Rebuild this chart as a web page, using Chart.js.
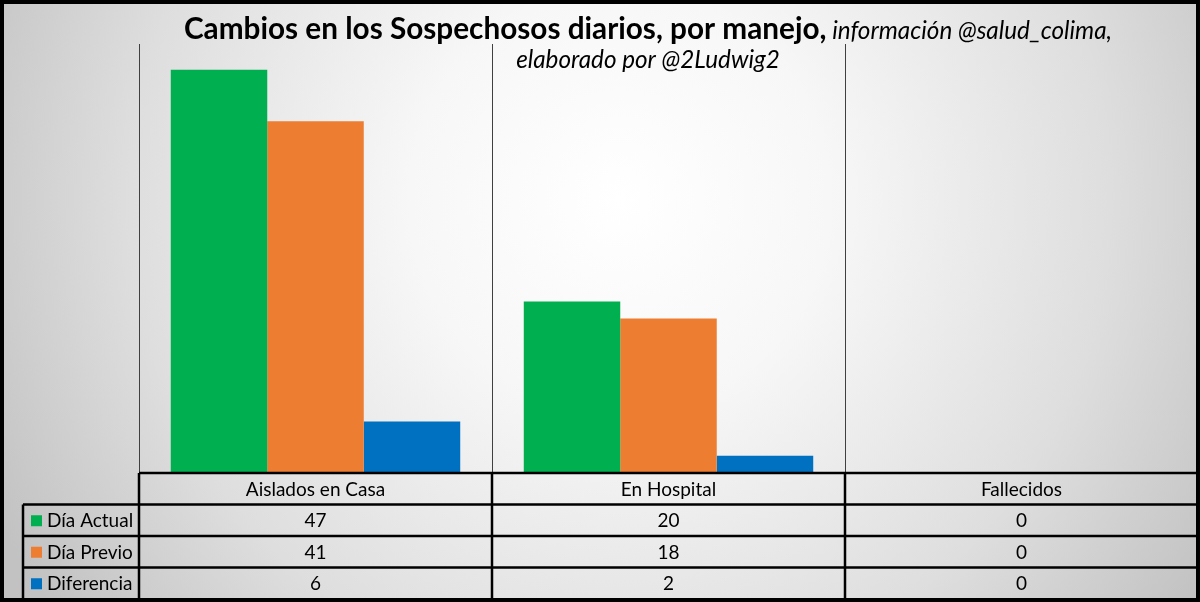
<!DOCTYPE html>
<html lang="es">
<head>
  <meta charset="UTF-8">
  <title>Cambios en los Sospechosos diarios</title>
  <script src="https://cdn.jsdelivr.net/npm/chart.js"></script>
  <style>
    html, body { margin: 0; padding: 0; background: #fff; }
    #wrap { position: relative; width: 1200px; height: 602px; }
  </style>
</head>
<body>
  <div id="wrap"><canvas id="chart"></canvas></div>

  <script>
    // data
    const categories = ['Aislados en Casa', 'En Hospital', 'Fallecidos'];
    const seriesNames = ['Día Actual', 'Día Previo', 'Diferencia'];
    const diaActual = [47, 20, 0];
    const diaPrevio = [41, 18, 0];
    const diferencia = [6, 2, 0];
    const seriesColors = ['#00B050', '#ED7D31', '#0070C0'];

    const FONT = 'Lato, "Open Sans", sans-serif';

    // fit a string to a width by adjusting font size
    function fitFont(ctx, text, style, width) {
      ctx.font = style + ' 20px ' + FONT;
      const w = ctx.measureText(text).width;
      return 20 * width / w;
    }

    const backgroundPlugin = {
      id: 'bgGradient',
      beforeDraw(chart) {
        const ctx = chart.ctx;
        const W = chart.width, H = chart.height;
        ctx.save();
        const g = ctx.createRadialGradient(620, 200, 0, 620, 200, 700);
        g.addColorStop(0, '#ffffff');
        g.addColorStop(0.3, '#f7f7f7');
        g.addColorStop(0.7, '#dedede');
        g.addColorStop(1, '#c2c2c2');
        ctx.fillStyle = g;
        ctx.fillRect(0, 0, W, H);
        ctx.restore();
      }
    };

    const tablePlugin = {
      id: 'dataTable',
      afterDraw(chart) {
        const ctx = chart.ctx;
        const area = chart.chartArea;
        const xs = chart.scales.x;
        const colW = (area.right - area.left) / categories.length;
        const rowH = 31.5;
        const top = area.bottom;
        const rows = [diaActual, diaPrevio, diferencia];
        const labelLeft = 23;

        ctx.save();
        ctx.strokeStyle = '#000';
        ctx.lineWidth = 2.5;
        // horizontal lines
        ctx.beginPath();
        ctx.moveTo(area.left, top);
        ctx.lineTo(area.right, top);
        for (let r = 1; r <= rows.length; r++) {
          ctx.moveTo(labelLeft, top + r * rowH);
          ctx.lineTo(area.right, top + r * rowH);
        }
        // vertical lines
        ctx.moveTo(labelLeft, top + rowH);
        ctx.lineTo(labelLeft, top + (rows.length + 1) * rowH);
        for (let c = 0; c <= categories.length; c++) {
          const x = area.left + c * colW;
          ctx.moveTo(x, top);
          ctx.lineTo(x, top + (rows.length + 1) * rowH);
        }
        ctx.stroke();

        ctx.fillStyle = '#000';
        ctx.font = '19px ' + FONT;
        ctx.textAlign = 'center';
        ctx.textBaseline = 'middle';
        categories.forEach((c, i) => {
          ctx.fillText(c, xs.getPixelForValue(i), top + rowH / 2 + 1);
        });
        rows.forEach((vals, r) => {
          const y = top + (r + 1) * rowH + rowH / 2 + 1;
          vals.forEach((v, i) => {
            ctx.fillText(String(v), xs.getPixelForValue(i), y);
          });
          // legend key + series name
          ctx.fillStyle = seriesColors[r];
          ctx.fillRect(31, y - 6, 11, 11);
          ctx.fillStyle = '#000';
          ctx.textAlign = 'left';
          ctx.fillText(seriesNames[r], 47, y);
          ctx.textAlign = 'center';
        });

        // title: bold part + italic credit, wrapped
        const t1 = 'Cambios en los Sospechosos diarios, por manejo,';
        const t2 = 'información @salud_colima,';
        const t3 = 'elaborado por @2Ludwig2';
        const s1 = fitFont(ctx, t1, 'bold', 643);
        const s2 = fitFont(ctx, t2, 'italic', 280);
        ctx.font = 'bold ' + s1 + 'px ' + FONT;
        const w1 = ctx.measureText(t1).width;
        ctx.font = 'italic ' + s2 + 'px ' + FONT;
        const wsp = ctx.measureText(' ').width;
        const w2 = ctx.measureText(t2).width;
        const cx = 648;
        const startX = cx - (w1 + wsp + w2) / 2;
        ctx.textBaseline = 'alphabetic';
        ctx.textAlign = 'left';
        ctx.font = 'bold ' + s1 + 'px ' + FONT;
        ctx.fillText(t1, startX, 39);
        ctx.font = 'italic ' + s2 + 'px ' + FONT;
        ctx.fillText(t2, startX + w1 + wsp, 39);
        ctx.textAlign = 'center';
        ctx.fillText(t3, cx, 68);

        // outer frame
        ctx.lineWidth = 4;
        ctx.strokeRect(2, 2, chart.width - 4, chart.height - 4);
        ctx.restore();
      }
    };

    new Chart(document.getElementById('chart'), {
      type: 'bar',
      data: {
        labels: categories,
        datasets: [
          { label: seriesNames[0], data: diaActual, backgroundColor: seriesColors[0] },
          { label: seriesNames[1], data: diaPrevio, backgroundColor: seriesColors[1] },
          { label: seriesNames[2], data: diferencia, backgroundColor: seriesColors[2] }
        ]
      },
      options: {
        responsive: true,
        maintainAspectRatio: false,
        animation: false,
        devicePixelRatio: 1,
        layout: { padding: { left: 139, right: 2, top: 44, bottom: 129 } },
        datasets: { bar: { categoryPercentage: 0.82, barPercentage: 1.0 } },
        plugins: { legend: { display: false }, title: { display: false }, tooltip: { enabled: false } },
        scales: {
          x: {
            ticks: { display: false },
            grid: { color: '#404040', lineWidth: 1, drawTicks: false, offset: true },
            border: { display: false }
          },
          y: { display: false, min: 0, max: 50 }
        }
      },
      plugins: [backgroundPlugin, tablePlugin]
    });
  </script>
</body>
</html>
